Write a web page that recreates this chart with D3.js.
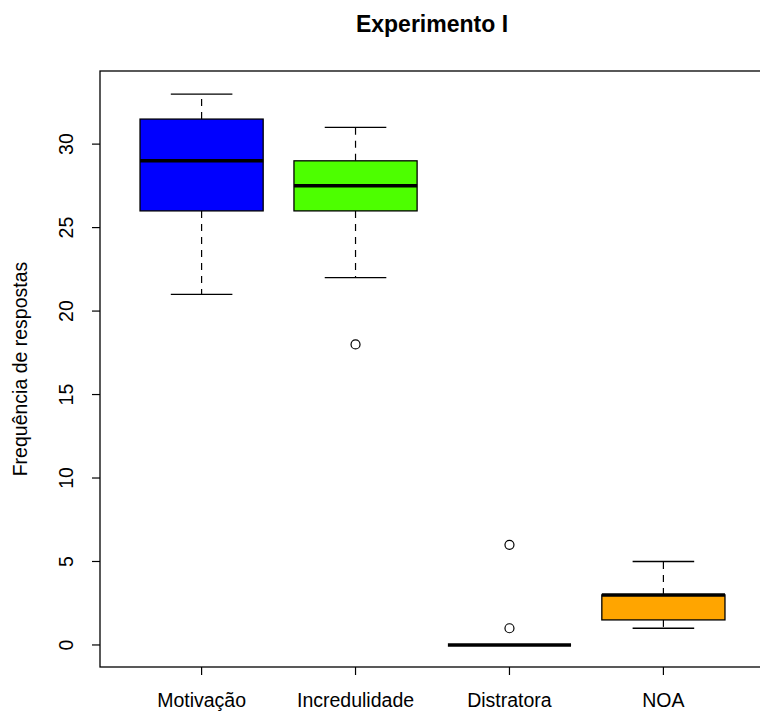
<!DOCTYPE html>
<html><head><meta charset="utf-8">
<script src="https://cdn.jsdelivr.net/npm/d3@7"></script>
<style>html,body{margin:0;background:#fff;overflow:hidden}svg{display:block}text{font-family:"Liberation Sans",Arial,sans-serif}</style>
</head><body>
<svg id="c" width="760" height="711"></svg>
<script>
const categories = ["Motivação","Incredulidade","Distratora","NOA"];
const whiskerLow  = [21, 22, 0, 1];
const q1          = [26, 26, 0, 1.5];
const medians     = [29, 27.5, 0, 3];
const q3          = [31.5, 29, 0, 3];
const whiskerHigh = [33, 31, 0, 5];
const outliers    = [[], [18], [1, 6], []];
const colors      = ["#0000FF", "#4DFF00", "#FFFFFF", "#FFA500"];
const yTicks      = [0, 5, 10, 15, 20, 25, 30];

const svg = d3.select("#c");
const L = 100, R = 765, T = 72, B = 667;
const x = d3.scaleLinear().domain([0.34, 4.66]).range([L, R]);
const y = d3.scaleLinear().domain([-1.32, 34.32]).range([B, T]);
const bw = x(1.8) - x(1);
const cw = bw / 2;

categories.forEach((c, i) => {
  const cx = x(i + 1);
  const g = svg.append("g");
  g.append("line").attr("x1", cx).attr("x2", cx).attr("y1", y(q3[i])).attr("y2", y(whiskerHigh[i]))
    .attr("stroke", "#000").attr("stroke-width", 1.2).attr("stroke-dasharray", "7,6");
  g.append("line").attr("x1", cx).attr("x2", cx).attr("y1", y(q1[i])).attr("y2", y(whiskerLow[i]))
    .attr("stroke", "#000").attr("stroke-width", 1.2).attr("stroke-dasharray", "7,6");
  [whiskerHigh[i], whiskerLow[i]].forEach(v => {
    g.append("line").attr("x1", cx - cw / 2).attr("x2", cx + cw / 2).attr("y1", y(v)).attr("y2", y(v))
      .attr("stroke", "#000").attr("stroke-width", 1.3);
  });
  if (q3[i] > q1[i]) {
    g.append("rect").attr("x", cx - bw / 2).attr("width", bw).attr("y", y(q3[i])).attr("height", y(q1[i]) - y(q3[i]))
      .attr("fill", colors[i]).attr("stroke", "#000").attr("stroke-width", 1.3);
  }
  g.append("line").attr("x1", cx - bw / 2).attr("x2", cx + bw / 2).attr("y1", y(medians[i])).attr("y2", y(medians[i]))
    .attr("stroke", "#000").attr("stroke-width", 3.5);
  outliers[i].forEach(v => {
    g.append("circle").attr("cx", cx).attr("cy", y(v)).attr("r", 4.5)
      .attr("fill", "none").attr("stroke", "#000").attr("stroke-width", 1.2);
  });
  svg.append("line").attr("x1", cx).attr("x2", cx).attr("y1", B).attr("y2", B + 8).attr("stroke", "#000").attr("stroke-width", 1.2);
  svg.append("text").attr("x", cx).attr("y", 707).attr("text-anchor", "middle").attr("font-size", 19.5).text(c);
});

svg.append("rect").attr("x", L).attr("y", T - 1).attr("width", R - L).attr("height", B - T + 1)
  .attr("fill", "none").attr("stroke", "#000").attr("stroke-width", 1.3);

yTicks.forEach(t => {
  svg.append("line").attr("x1", L - 8).attr("x2", L).attr("y1", y(t)).attr("y2", y(t)).attr("stroke", "#000").attr("stroke-width", 1.2);
  svg.append("text").attr("transform", `translate(73,${y(t)}) rotate(-90)`).attr("text-anchor", "middle")
    .attr("font-size", 19.5).text(t);
});

svg.append("text").attr("transform", `translate(27,369) rotate(-90)`).attr("text-anchor", "middle")
  .attr("font-size", 19.5).text("Frequência de respostas");
svg.append("text").attr("x", 432).attr("y", 32).attr("text-anchor", "middle").attr("font-size", 23)
  .attr("font-weight", "bold").text("Experimento I");
</script>
</body></html>
